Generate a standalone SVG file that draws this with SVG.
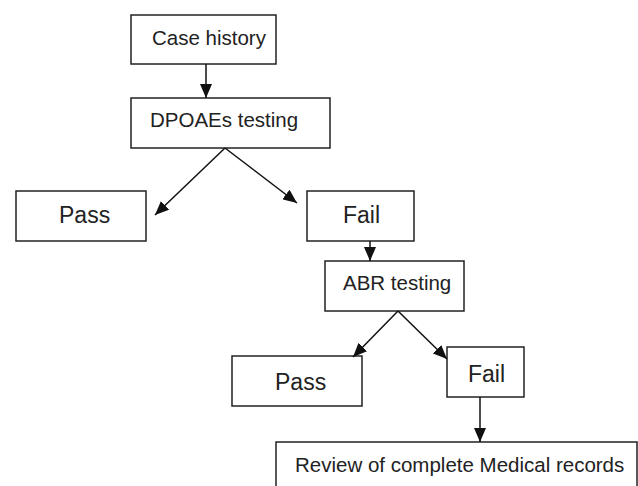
<svg xmlns="http://www.w3.org/2000/svg" width="638" height="486" viewBox="0 0 638 486">
<defs>
<marker id="ah" markerWidth="14" markerHeight="12" refX="14" refY="6" orient="auto" markerUnits="userSpaceOnUse">
<path d="M0,0 L14,6 L0,12 Z" fill="#111"/>
</marker>
<style>
.box{fill:#fff;stroke:#222;stroke-width:1.5}
.t{font-family:"Liberation Sans",Arial,sans-serif;font-size:20.5px;fill:#222}
.tb{font-family:"Liberation Sans",Arial,sans-serif;font-size:23px;fill:#222}
.c{stroke:#111;stroke-width:1.5;fill:none;marker-end:url(#ah)}
</style>
</defs>
<rect width="638" height="486" fill="#fff"/>
<g id="case-history"><rect class="box" x="131" y="15" width="145" height="49"/><text class="t" x="152" y="45">Case history</text></g>
<g id="dpoaes"><rect class="box" x="131" y="98" width="199" height="50"/><text class="t" x="150" y="127">DPOAEs testing</text></g>
<g id="pass1"><rect class="box" x="16" y="191" width="130" height="50"/><text class="tb" x="59" y="223">Pass</text></g>
<g id="fail1"><rect class="box" x="307" y="191" width="107" height="50"/><text class="tb" x="343" y="223">Fail</text></g>
<g id="abr"><rect class="box" x="325" y="261" width="139" height="50"/><text class="t" x="343" y="290">ABR testing</text></g>
<g id="pass2"><rect class="box" x="232" y="356" width="130" height="50"/><text class="tb" x="275" y="390">Pass</text></g>
<g id="fail2"><rect class="box" x="447" y="347" width="77" height="50"/><text class="tb" x="468" y="382">Fail</text></g>
<g id="review"><rect class="box" x="276" y="442" width="361" height="60"/><text class="t" x="295" y="472">Review of complete Medical records</text></g>
<g id="connectors">
<line class="c" x1="206" y1="64" x2="206" y2="98"/>
<line class="c" x1="225" y1="148" x2="155" y2="215"/>
<line class="c" x1="225" y1="148" x2="297" y2="203"/>
<line class="c" x1="370" y1="241" x2="370" y2="261"/>
<line class="c" x1="398" y1="311" x2="353" y2="357"/>
<line class="c" x1="398" y1="311" x2="447" y2="359"/>
<line class="c" x1="480" y1="397" x2="480" y2="442"/>
</g>
</svg>
